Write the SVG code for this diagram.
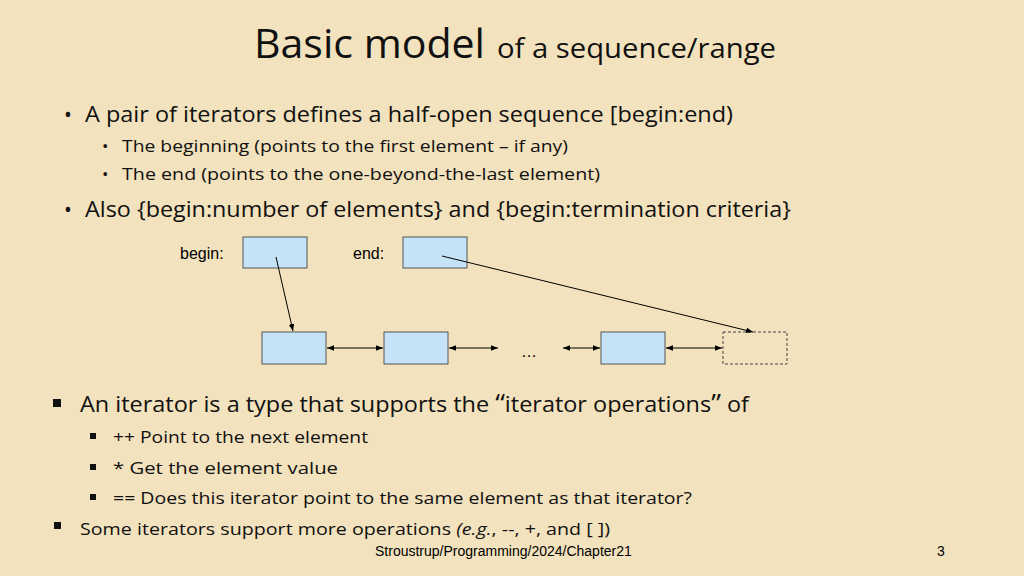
<svg xmlns="http://www.w3.org/2000/svg" width="1024" height="576" viewBox="0 0 1024 576">
<defs>
<marker id="ah" viewBox="0 0 10 10" refX="10" refY="5" markerWidth="7" markerHeight="7" orient="auto-start-reverse"><path d="M0,1 L10,5 L0,9 z" fill="#000"/></marker>
<style>
.t{font-family:"Open Sans","Liberation Sans",sans-serif;fill:#111}
.a{font-family:"Liberation Sans",Arial,sans-serif;fill:#000}
.box{fill:#c5e3f7;stroke:#555;stroke-width:1}
.c{stroke:#000;stroke-width:1;fill:none}
</style>
</defs>
<rect width="1024" height="576" fill="#f2e2bd"/>
<text x="254" y="58" class="t" font-size="40" textLength="231" lengthAdjust="spacingAndGlyphs">Basic model</text>
<text x="497" y="58" class="t" font-size="27" textLength="279" lengthAdjust="spacingAndGlyphs">of a sequence/range</text>
<text x="64" y="122" class="t" font-size="21">•</text>
<text x="85" y="122" class="t" font-size="21" textLength="648" lengthAdjust="spacingAndGlyphs">A pair of iterators defines a half-open sequence [begin:end)</text>
<text x="102" y="152" class="t" font-size="17">•</text>
<text x="122" y="152" class="t" font-size="17" textLength="446" lengthAdjust="spacingAndGlyphs">The beginning (points to the first element – if any)</text>
<text x="102" y="180" class="t" font-size="17">•</text>
<text x="122" y="180" class="t" font-size="17" textLength="478" lengthAdjust="spacingAndGlyphs">The end (points to the one-beyond-the-last element)</text>
<text x="64" y="217" class="t" font-size="21">•</text>
<text x="85" y="217" class="t" font-size="21" textLength="706" lengthAdjust="spacingAndGlyphs">Also {begin:number of elements} and {begin:termination criteria}</text>
<text x="180" y="259" class="a" font-size="16">begin:</text>
<text x="353" y="259" class="a" font-size="16">end:</text>
<g id="begin"><rect class="box" x="243" y="237" width="64" height="31"/></g>
<g id="end"><rect class="box" x="403" y="237" width="64" height="31"/></g>
<g id="e1"><rect class="box" x="262" y="332" width="64" height="32"/></g>
<g id="e2"><rect class="box" x="384" y="332" width="64" height="32"/></g>
<g id="e3"><rect class="box" x="601" y="332" width="64" height="32"/></g>
<g id="e4"><rect x="723" y="332" width="64" height="32" fill="none" stroke="#444" stroke-dasharray="3,2"/></g>
<text x="521" y="357" class="a" font-size="16">…</text>
<g id="connectors">
<line class="c" x1="276" y1="257" x2="293" y2="331" marker-end="url(#ah)"/>
<line class="c" x1="442" y1="256" x2="753" y2="332" marker-end="url(#ah)"/>
<line class="c" x1="327" y1="348" x2="383" y2="348" marker-start="url(#ah)" marker-end="url(#ah)"/>
<line class="c" x1="449" y1="348" x2="498" y2="348" marker-start="url(#ah)" marker-end="url(#ah)"/>
<line class="c" x1="563" y1="348" x2="600" y2="348" marker-start="url(#ah)" marker-end="url(#ah)"/>
<line class="c" x1="666" y1="348" x2="722" y2="348" marker-start="url(#ah)" marker-end="url(#ah)"/>
</g>
<rect x="53" y="399" width="8" height="8" fill="#111"/>
<text x="80" y="412" class="t" font-size="21" textLength="669" lengthAdjust="spacingAndGlyphs">An iterator is a type that supports the <tspan font-size="25">“</tspan>iterator operations<tspan font-size="25">”</tspan> of</text>
<rect x="90" y="433" width="6" height="6" fill="#111"/>
<text x="113" y="443" class="t" font-size="17" textLength="255" lengthAdjust="spacingAndGlyphs">++ Point to the next element</text>
<rect x="90" y="464" width="6" height="6" fill="#111"/>
<text x="113" y="474" class="t" font-size="17" textLength="225" lengthAdjust="spacingAndGlyphs">*  Get the element value</text>
<rect x="90" y="494" width="6" height="6" fill="#111"/>
<text x="113" y="504" class="t" font-size="17" textLength="579" lengthAdjust="spacingAndGlyphs">== Does this iterator point to the same element as that iterator?</text>
<rect x="54" y="522" width="7" height="7" fill="#111"/>
<text x="80" y="535" class="t" font-size="17" textLength="530" lengthAdjust="spacingAndGlyphs">Some iterators support more operations <tspan font-style="italic">(e.g.</tspan>, --, +, and [ ])</text>
<text x="375" y="556" class="a" font-size="14">Stroustrup/Programming/2024/Chapter21</text>
<text x="937" y="556" class="a" font-size="14">3</text>
</svg>
